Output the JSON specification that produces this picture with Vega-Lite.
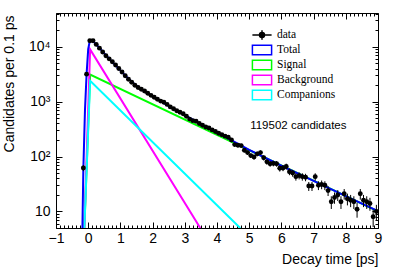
{
  "$schema": "https://vega.github.io/schema/vega-lite/v6.json",
  "width": 322,
  "height": 215,
  "autosize": {"type": "none"},
  "padding": {"left": 56, "top": 13, "right": 21, "bottom": 43},
  "background": "white",
  "config": {"view": {"stroke": "black", "strokeWidth": 1}, "font": "Liberation Sans"},
  "datasets": {
    "curves": [
      {"series": "Signal", "t": -0.12, "v": 5},
      {"series": "Signal", "t": 0.06, "v": 3100},
      {"series": "Signal", "t": 9.0, "v": 10.0},
      {"series": "Background", "t": -0.12, "v": 5},
      {"series": "Background", "t": 0.06, "v": 8900},
      {"series": "Background", "t": 3.48, "v": 5},
      {"series": "Companions", "t": -0.12, "v": 5},
      {"series": "Companions", "t": 0.06, "v": 2400},
      {"series": "Companions", "t": 4.72, "v": 5},
      {"series": "Total", "t": -0.18, "v": 5},
      {"series": "Total", "t": -0.15, "v": 62},
      {"series": "Total", "t": -0.1, "v": 700},
      {"series": "Total", "t": -0.05, "v": 3160},
      {"series": "Total", "t": 0.0, "v": 9000},
      {"series": "Total", "t": 0.05, "v": 12800},
      {"series": "Total", "t": 0.15, "v": 12600},
      {"series": "Total", "t": 0.3, "v": 10200},
      {"series": "Total", "t": 0.5, "v": 7500},
      {"series": "Total", "t": 0.75, "v": 5250},
      {"series": "Total", "t": 1.0, "v": 3700},
      {"series": "Total", "t": 1.25, "v": 2600},
      {"series": "Total", "t": 1.5, "v": 1950},
      {"series": "Total", "t": 1.75, "v": 1530},
      {"series": "Total", "t": 2.0, "v": 1240},
      {"series": "Total", "t": 2.5, "v": 830},
      {"series": "Total", "t": 3.0, "v": 565},
      {"series": "Total", "t": 3.5, "v": 390},
      {"series": "Total", "t": 4.0, "v": 272},
      {"series": "Total", "t": 4.5, "v": 190},
      {"series": "Total", "t": 5.0, "v": 132},
      {"series": "Total", "t": 6.0, "v": 68},
      {"series": "Total", "t": 7.0, "v": 36},
      {"series": "Total", "t": 8.0, "v": 19},
      {"series": "Total", "t": 9.0, "v": 10.2}
    ],
    "pts": [
      {"t": -0.15, "n": 62, "lo": 54.1, "hi": 69.9},
      {"t": -0.05, "n": 3160, "lo": 3104, "hi": 3216},
      {"t": 0.05, "n": 12800, "lo": 12687, "hi": 12913},
      {"t": 0.15, "n": 12800, "lo": 12687, "hi": 12913},
      {"t": 0.25, "n": 11000, "lo": 10895, "hi": 11105},
      {"t": 0.35, "n": 9400, "lo": 9303, "hi": 9497},
      {"t": 0.45, "n": 8000, "lo": 7911, "hi": 8089},
      {"t": 0.55, "n": 6850, "lo": 6767, "hi": 6933},
      {"t": 0.65, "n": 6000, "lo": 5923, "hi": 6077},
      {"t": 0.75, "n": 5300, "lo": 5227, "hi": 5373},
      {"t": 0.85, "n": 4650, "lo": 4582, "hi": 4718},
      {"t": 0.95, "n": 4000, "lo": 3937, "hi": 4063},
      {"t": 1.05, "n": 3450, "lo": 3391, "hi": 3509},
      {"t": 1.15, "n": 2950, "lo": 2896, "hi": 3004},
      {"t": 1.25, "n": 2550, "lo": 2500, "hi": 2600},
      {"t": 1.35, "n": 2250, "lo": 2203, "hi": 2297},
      {"t": 1.45, "n": 1990, "lo": 1945, "hi": 2035},
      {"t": 1.55, "n": 1800, "lo": 1758, "hi": 1842},
      {"t": 1.65, "n": 1680, "lo": 1639, "hi": 1721},
      {"t": 1.75, "n": 1560, "lo": 1520, "hi": 1600},
      {"t": 1.85, "n": 1420, "lo": 1382, "hi": 1458},
      {"t": 1.95, "n": 1300, "lo": 1264, "hi": 1336},
      {"t": 2.05, "n": 1200, "lo": 1165, "hi": 1235},
      {"t": 2.15, "n": 1100, "lo": 1067, "hi": 1133},
      {"t": 2.25, "n": 1020, "lo": 988, "hi": 1052},
      {"t": 2.35, "n": 970, "lo": 939, "hi": 1001},
      {"t": 2.45, "n": 890, "lo": 860, "hi": 920},
      {"t": 2.55, "n": 800, "lo": 772, "hi": 828},
      {"t": 2.65, "n": 740, "lo": 713, "hi": 767},
      {"t": 2.75, "n": 680, "lo": 654, "hi": 706},
      {"t": 2.85, "n": 640, "lo": 615, "hi": 665},
      {"t": 2.95, "n": 600, "lo": 576, "hi": 624},
      {"t": 3.05, "n": 540, "lo": 517, "hi": 563},
      {"t": 3.15, "n": 480, "lo": 458, "hi": 502},
      {"t": 3.25, "n": 450, "lo": 429, "hi": 471},
      {"t": 3.35, "n": 440, "lo": 419, "hi": 461},
      {"t": 3.45, "n": 400, "lo": 380, "hi": 420},
      {"t": 3.55, "n": 370, "lo": 351, "hi": 389},
      {"t": 3.65, "n": 345, "lo": 326, "hi": 364},
      {"t": 3.75, "n": 330, "lo": 312, "hi": 348},
      {"t": 3.85, "n": 305, "lo": 288, "hi": 322},
      {"t": 3.95, "n": 285, "lo": 268, "hi": 302},
      {"t": 4.05, "n": 265, "lo": 249, "hi": 281},
      {"t": 4.15, "n": 250, "lo": 234, "hi": 266},
      {"t": 4.25, "n": 235, "lo": 220, "hi": 250},
      {"t": 4.35, "n": 225, "lo": 210, "hi": 240},
      {"t": 4.45, "n": 200, "lo": 186, "hi": 214},
      {"t": 4.55, "n": 165, "lo": 152, "hi": 178},
      {"t": 4.65, "n": 160, "lo": 147, "hi": 173},
      {"t": 4.75, "n": 158, "lo": 145, "hi": 171},
      {"t": 4.85, "n": 130, "lo": 119, "hi": 141},
      {"t": 4.95, "n": 118, "lo": 107, "hi": 129},
      {"t": 5.05, "n": 104, "lo": 94, "hi": 114},
      {"t": 5.15, "n": 98, "lo": 88, "hi": 108},
      {"t": 5.25, "n": 112, "lo": 101, "hi": 123},
      {"t": 5.35, "n": 118, "lo": 107, "hi": 129},
      {"t": 5.45, "n": 95, "lo": 85, "hi": 105},
      {"t": 5.55, "n": 80, "lo": 71, "hi": 89},
      {"t": 5.65, "n": 74, "lo": 65.4, "hi": 82.6},
      {"t": 5.75, "n": 75, "lo": 66.3, "hi": 83.7},
      {"t": 5.85, "n": 74, "lo": 65.4, "hi": 82.6},
      {"t": 5.95, "n": 61, "lo": 53.2, "hi": 68.8},
      {"t": 6.05, "n": 62, "lo": 54.1, "hi": 69.9},
      {"t": 6.15, "n": 66, "lo": 57.9, "hi": 74.1},
      {"t": 6.25, "n": 53, "lo": 45.7, "hi": 60.3},
      {"t": 6.35, "n": 50, "lo": 42.9, "hi": 57.1},
      {"t": 6.45, "n": 43, "lo": 36.4, "hi": 49.6},
      {"t": 6.55, "n": 45, "lo": 38.3, "hi": 51.7},
      {"t": 6.65, "n": 43, "lo": 36.4, "hi": 49.6},
      {"t": 6.75, "n": 42, "lo": 35.5, "hi": 48.5},
      {"t": 6.85, "n": 29, "lo": 23.6, "hi": 34.4},
      {"t": 6.95, "n": 29, "lo": 23.6, "hi": 34.4},
      {"t": 7.05, "n": 43, "lo": 36.4, "hi": 49.6},
      {"t": 7.15, "n": 30, "lo": 24.5, "hi": 35.5},
      {"t": 7.25, "n": 31, "lo": 25.4, "hi": 36.6},
      {"t": 7.35, "n": 30, "lo": 24.5, "hi": 35.5},
      {"t": 7.45, "n": 24, "lo": 19.1, "hi": 28.9},
      {"t": 7.55, "n": 15, "lo": 11.1, "hi": 18.9},
      {"t": 7.65, "n": 18, "lo": 13.8, "hi": 22.2},
      {"t": 7.75, "n": 20, "lo": 15.5, "hi": 24.5},
      {"t": 7.85, "n": 15, "lo": 11.1, "hi": 18.9},
      {"t": 7.95, "n": 21, "lo": 16.4, "hi": 25.6},
      {"t": 8.05, "n": 17, "lo": 12.9, "hi": 21.1},
      {"t": 8.15, "n": 16, "lo": 12, "hi": 20},
      {"t": 8.25, "n": 15, "lo": 11.1, "hi": 18.9},
      {"t": 8.35, "n": 11, "lo": 7.7, "hi": 14.3},
      {"t": 8.45, "n": 21, "lo": 16.4, "hi": 25.6},
      {"t": 8.55, "n": 16, "lo": 12, "hi": 20},
      {"t": 8.65, "n": 15, "lo": 11.1, "hi": 18.9},
      {"t": 8.75, "n": 14, "lo": 10.3, "hi": 17.7},
      {"t": 8.85, "n": 8, "lo": 5.2, "hi": 10.8},
      {"t": 8.95, "n": 10, "lo": 6.8, "hi": 13.2}
    ],
    "note": [{"label": "119502 candidates"}]
  },
  "layer": [
    {
      "data": {"name": "curves"},
      "mark": {"type": "line", "strokeWidth": 2, "clip": true},
      "encoding": {
        "x": {
          "field": "t", "type": "quantitative",
          "scale": {"domain": [-1, 9], "nice": false, "zero": false},
          "axis": {
            "orient": "bottom",
            "values": [-1,-0.875,-0.75,-0.625,-0.5,-0.375,-0.25,-0.125,0,0.125,0.25,0.375,0.5,0.625,0.75,0.875,1,1.125,1.25,1.375,1.5,1.625,1.75,1.875,2,2.125,2.25,2.375,2.5,2.625,2.75,2.875,3,3.125,3.25,3.375,3.5,3.625,3.75,3.875,4,4.125,4.25,4.375,4.5,4.625,4.75,4.875,5,5.125,5.25,5.375,5.5,5.625,5.75,5.875,6,6.125,6.25,6.375,6.5,6.625,6.75,6.875,7,7.125,7.25,7.375,7.5,7.625,7.75,7.875,8,8.125,8.25,8.375,8.5,8.625,8.75,8.875,9],
            "labelExpr": "datum.value % 1 === 0 ? (datum.value < 0 ? '\u2212' + abs(datum.value) : '' + datum.value) : ''",
            "tickSize": {"condition": {"test": "datum.value % 1 === 0", "value": -6}, "value": -3},
            "tickColor": "black",
            "tickWidth": 1,
            "domain": false,
            "grid": false,
            "labelFont": "Liberation Sans",
            "labelFontSize": 14,
            "labelColor": "black",
            "labelPadding": 9,
            "labelFlush": false,
            "labelOverlap": false,
            "title": "Decay time [ps]",
            "titleFont": "Liberation Sans",
            "titleFontSize": 14,
            "titleFontWeight": "normal",
            "titleColor": "black",
            "titleAlign": "right",
            "titleBaseline": "alphabetic",
            "titleX": 322,
            "titleY": 35
          }
        },
        "y": {
          "field": "v", "type": "quantitative",
          "scale": {"type": "log", "domain": [5, 41000], "nice": false},
          "axis": {
            "orient": "left",
            "values": [5,6,7,8,9,10,20,30,40,50,60,70,80,90,100,200,300,400,500,600,700,800,900,1000,2000,3000,4000,5000,6000,7000,8000,9000,10000,20000,30000,40000],
            "labelExpr": "datum.value === 10 ? '10' : datum.value === 100 ? '10\u00b2' : datum.value === 1000 ? '10\u00b3' : datum.value === 10000 ? '10\u2074' : ''",
            "tickSize": {"condition": {"test": "datum.value === 10 || datum.value === 100 || datum.value === 1000 || datum.value === 10000", "value": -6}, "value": -3},
            "tickColor": "black",
            "tickWidth": 1,
            "domain": false,
            "grid": false,
            "labelFont": "Liberation Sans",
            "labelFontSize": 14,
            "labelColor": "black",
            "labelPadding": 12,
            "labelFlush": false,
            "labelOverlap": false,
            "title": "Candidates per 0.1 ps",
            "titleFont": "Liberation Sans",
            "titleFontSize": 14,
            "titleFontWeight": "normal",
            "titleColor": "black",
            "titleAngle": -90,
            "titleAlign": "right",
            "titleBaseline": "middle",
            "titleX": -47,
            "titleY": 2
          }
        },
        "color": {
          "field": "series", "type": "nominal",
          "scale": {
            "domain": ["data", "Total", "Signal", "Background", "Companions"],
            "range": ["#000000", "#0000ff", "#00ff00", "#ff00ff", "#00ffff"]
          },
          "legend": {
            "orient": "none",
            "legendX": 195,
            "legendY": 14.7,
            "title": null,
            "padding": 0,
            "symbolSize": 400,
            "symbolStrokeWidth": 1.5,
            "clipHeight": 14.6,
            "labelFont": "Liberation Serif",
            "labelFontSize": 11.5,
            "labelColor": "black",
            "labelOffset": 4,
            "labelBaseline": "middle",
            "rowPadding": 0,
            "encode": {
              "symbols": {
                "update": {
                  "shape": [
                    {"test": "datum.value === 'data'", "value": "M-0.96,0H0.96M0,-0.48V0.48M0.25,0A0.25,0.25 0 1,1 -0.25,0A0.25,0.25 0 1,1 0.25,0Z"},
                    {"value": "M-0.96,-0.48H0.96V0.48H-0.96Z"}
                  ],
                  "fill": [
                    {"test": "datum.value === 'data'", "value": "#000000"},
                    {"value": "transparent"}
                  ]
                }
              }
            }
          }
        }
      }
    },
    {
      "data": {"name": "pts"},
      "mark": {"type": "rule", "color": "black", "strokeWidth": 1},
      "encoding": {
        "x": {
          "field": "t", "type": "quantitative",
          "axis": {
            "orient": "top",
            "values": [-1,-0.875,-0.75,-0.625,-0.5,-0.375,-0.25,-0.125,0,0.125,0.25,0.375,0.5,0.625,0.75,0.875,1,1.125,1.25,1.375,1.5,1.625,1.75,1.875,2,2.125,2.25,2.375,2.5,2.625,2.75,2.875,3,3.125,3.25,3.375,3.5,3.625,3.75,3.875,4,4.125,4.25,4.375,4.5,4.625,4.75,4.875,5,5.125,5.25,5.375,5.5,5.625,5.75,5.875,6,6.125,6.25,6.375,6.5,6.625,6.75,6.875,7,7.125,7.25,7.375,7.5,7.625,7.75,7.875,8,8.125,8.25,8.375,8.5,8.625,8.75,8.875,9],
            "labels": false,
            "tickSize": {"condition": {"test": "datum.value % 1 === 0", "value": -6}, "value": -3},
            "tickColor": "black",
            "domain": false,
            "grid": false,
            "title": null
          }
        },
        "y": {
          "field": "lo", "type": "quantitative",
          "axis": {
            "orient": "right",
            "values": [5,6,7,8,9,10,20,30,40,50,60,70,80,90,100,200,300,400,500,600,700,800,900,1000,2000,3000,4000,5000,6000,7000,8000,9000,10000,20000,30000,40000],
            "labels": false,
            "tickSize": {"condition": {"test": "datum.value === 10 || datum.value === 100 || datum.value === 1000 || datum.value === 10000", "value": -6}, "value": -3},
            "tickColor": "black",
            "domain": false,
            "grid": false,
            "title": null
          }
        },
        "y2": {"field": "hi"}
      }
    },
    {
      "data": {"name": "pts"},
      "mark": {"type": "circle", "color": "black", "size": 24, "opacity": 1},
      "encoding": {
        "x": {"field": "t", "type": "quantitative", "axis": null},
        "y": {"field": "n", "type": "quantitative", "axis": null}
      }
    },
    {
      "data": {"name": "note"},
      "mark": {"type": "text", "align": "left", "baseline": "middle", "font": "Liberation Sans", "fontSize": 11.5, "color": "black"},
      "encoding": {
        "text": {"field": "label", "type": "nominal"},
        "x": {"datum": 5.03, "type": "quantitative", "axis": null},
        "y": {"datum": 357, "type": "quantitative", "axis": null}
      }
    }
  ],
  "resolve": {"axis": {"x": "independent", "y": "independent"}}
}
